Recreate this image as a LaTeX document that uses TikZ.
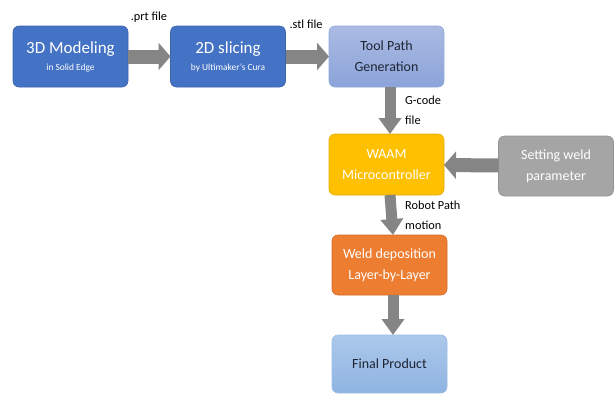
\documentclass[tikz,border=0pt]{standalone}
\usepackage{fontspec}
\setmainfont{Carlito}
\usetikzlibrary{arrows.meta}
\definecolor{modelblue}{HTML}{4472C4}
\definecolor{modelline}{HTML}{3B64AE}
\definecolor{pathtop}{HTML}{AABAE2}
\definecolor{pathbot}{HTML}{8CA4DA}
\definecolor{pathline}{HTML}{8FA8DC}
\definecolor{waamyellow}{HTML}{FFC000}
\definecolor{waamline}{HTML}{E3AC00}
\definecolor{paramgray}{HTML}{A5A5A5}
\definecolor{paramline}{HTML}{929292}
\definecolor{weldorange}{HTML}{ED7D31}
\definecolor{weldline}{HTML}{D46B26}
\definecolor{prodtop}{HTML}{ABC8EA}
\definecolor{prodbot}{HTML}{8FB4E2}
\definecolor{prodline}{HTML}{9DBDE5}
\definecolor{flowgray}{HTML}{858585}
\definecolor{darktext}{HTML}{1E2433}
\tikzset{
  stage/.style={rounded corners=6pt,minimum width=115pt,minimum height=61pt,
    inner sep=0pt,outer sep=0pt,align=center,line width=0.6pt},
  bluestage/.style={stage,fill=modelblue,draw=modelline,text=white},
  midfont/.style={font=\fontsize{14}{21}\selectfont},
  hflow/.style={line width=14pt,draw=flowgray,-{Triangle[length=12pt,width=27pt]}},
  vflow/.style={line width=11pt,draw=flowgray,-{Triangle[length=16pt,width=22pt]}},
  flowlabel/.style={font=\fontsize{12.3}{20}\selectfont,text=black,inner sep=0pt,align=left}
}

\begin{document}
\begin{tikzpicture}[x=1pt,y=-1pt]
  \useasboundingbox (0,0) rectangle (614,394);

  % process boxes
  \node[bluestage] (model) at (70.5,56.5)
    {{\fontsize{17}{19}\selectfont 3D Modeling}\\[5pt]{\fontsize{9.4}{10}\selectfont in Solid Edge}};
  \node[bluestage] (slice) at (228,56.5)
    {{\fontsize{17}{19}\selectfont 2D slicing}\\[5pt]{\fontsize{9.4}{10}\selectfont by Ultimaker’s Cura}};
  \node[stage,midfont,top color=pathtop,bottom color=pathbot,draw=pathline,text=darktext] (tool) at (386.5,56.5)
    {Tool Path\\Generation};
  \node[stage,midfont,fill=waamyellow,draw=waamline,text=white] (waam) at (386.5,164.5)
    {WAAM\\Microcontroller};
  \node[stage,midfont,fill=paramgray,draw=paramline,text=white,minimum height=60pt] (param) at (556,166)
    {Setting weld\\parameter};
  \node[stage,midfont,fill=weldorange,draw=weldline,text=white,minimum height=60pt] (weld) at (389.5,265)
    {Weld deposition\\Layer-by-Layer};
  \node[stage,midfont,top color=prodtop,bottom color=prodbot,draw=prodline,text=darktext,minimum height=58pt] (final) at (389.5,364)
    {Final Product};

  % connectors
  \draw[hflow] (model) -- (slice);
  \draw[hflow] (slice) -- (tool);
  \draw[hflow] (param) -- (waam);
  \foreach \a/\b in {tool/waam,waam/weld,weld/final}
    \draw[vflow] ([xshift=3.5pt]\a.south) -- ([xshift=3.5pt]\b.north);

  % file labels
  \node[flowlabel] (prt) at (149,17) {.prt file};
  \node[flowlabel] (stl) at (306,24) {.stl file};
  \node[flowlabel,anchor=west] (gcode) at (405,110) {G-code\\file};
  \node[flowlabel,anchor=west] (robot) at (405,215) {Robot Path\\motion};
\end{tikzpicture}
\end{document}
